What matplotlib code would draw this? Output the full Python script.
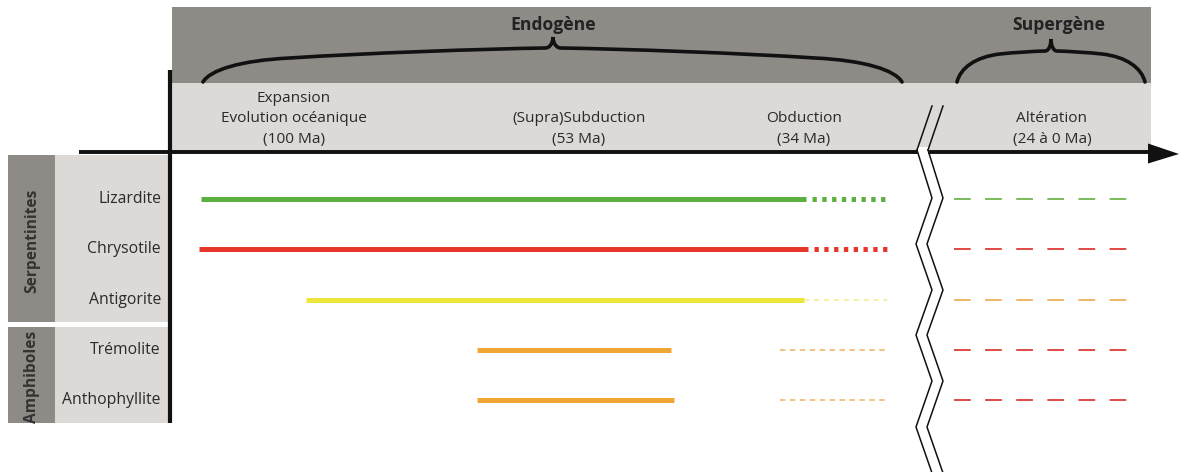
import matplotlib
matplotlib.use("Agg")
import matplotlib.pyplot as plt
from matplotlib.path import Path
from matplotlib.patches import PathPatch, Rectangle, Polygon

# ---------------- data (chart units ~ horizontal position on timeline) -------------
minerals = ["Lizardite", "Chrysotile", "Antigorite", "Trémolite", "Anthophyllite"]
groups = ["Serpentinites", "Amphiboles"]
group_sizes = [3, 2]
domains = ["Endogène", "Supergène"]
phases = ["Expansion\nEvolution océanique\n(100 Ma)", "(Supra)Subduction\n(53 Ma)",
          "Obduction\n(34 Ma)", "Altération\n(24 à 0 Ma)"]
phase_pos = [294, 579, 804, 1052]

solid_start = [201, 199, 306, 477, 477]
solid_end = [806, 808, 804, 671, 674]
tail_start = [812, 814, 804, 780, 780]
tail_end = [885, 887, 887, 888, 888]
tail_style = ["dots", "dots", "thin", "thin", "thin"]
super_start = [954, 954, 954, 954, 954]
super_end = [1131, 1131, 1131, 1131, 1131]

solid_colors = ["#5cb040", "#e8362c", "#ece63a", "#f0a636", "#f0a636"]
tail_colors = ["#5cb040", "#e8362c", "#eeee90", "#f0b060", "#f0b060"]
super_colors = ["#7cba5c", "#e04a44", "#f0b468", "#e04a44", "#e04a44"]

# ---------------- figure ----------------
W, H = 1179, 472
fig = plt.figure(figsize=(W / 100, H / 100), dpi=100)
ax = fig.add_axes([0, 0, 1, 1])
ax.set_xlim(0, W)
ax.set_ylim(H, 0)
ax.axis("off")
fig.patch.set_facecolor("white")

FONT = "Open Sans"
TXT = "#2a2a2a"
DARK = "#8e8a86"
LIGHT = "#dcd9d6"

# header bands
ax.add_patch(Rectangle((172, 7), 1151 - 172, 76, facecolor=DARK, edgecolor="none", zorder=1))
ax.add_patch(Rectangle((172, 83), 1151 - 172, 69, facecolor=LIGHT, edgecolor="none", zorder=1))

# left group panels
row_y0, row_step = 199, 50.3
rows_y = [row_y0 + i * row_step for i in range(len(minerals))]
panel_tops = [155, 327]
panel_bots = [322, 423]
for g, top, bot in zip(groups, panel_tops, panel_bots):
    ax.add_patch(Rectangle((8, top), 47, bot - top, facecolor=DARK, edgecolor="none", zorder=1))
    ax.add_patch(Rectangle((55, top), 114, bot - top, facecolor=LIGHT, edgecolor="none", zorder=1))
    ax.text(32, (top + bot) / 2 + 2, g, rotation=90, ha="center", va="center",
            fontsize=11.2, fontweight="bold", color="#333333", family=FONT, zorder=3)

for m, y in zip(minerals, rows_y):
    ax.text(161, y, m, ha="right", va="center", fontsize=11.3, color=TXT, family=FONT, zorder=3)

# axes lines
ax.plot([170, 170], [70, 423], color="#111111", lw=3, solid_capstyle="butt", zorder=4)
ax.plot([79, 1152], [152, 152], color="#111111", lw=2.8, solid_capstyle="butt", zorder=4)
ax.add_patch(Polygon([[1148, 143.5], [1179, 154], [1148, 163.5]], closed=True,
                     facecolor="#111111", edgecolor="none", zorder=4))

# phase labels
for p, x in zip(phases, phase_pos):
    ax.text(x, 146.5, p, ha="center", va="bottom", fontsize=11.1, color=TXT,
            family=FONT, linespacing=1.48, zorder=3)

# braces
def brace(x0, x1, xm, yb, ym, ytip, knee, yk, c):
    verts = []
    for side in (1, -1):
        xs = x0 if side == 1 else x1
        xk = xs + side * knee
        dk, dy = knee, yb - yk
        L = abs(xm - c * side - xk) if side == 1 else abs(xk - (xm + c))
        half = [(xs, yb),
                (xs + side * 0.08 * dk, yb - 0.5 * dy), (xs + side * 0.43 * dk, yk + 0.1 * dy), (xk, yk),
                (xk + side * 0.3 * L, yk - 0.5 * (yk - ym)), (xk + side * 0.75 * L, ym + 0.1 * (yk - ym)),
                (xm - side * c, ym),
                (xm - side * 0.4 * c, ym), (xm, ym - 0.45 * (ym - ytip)), (xm, ytip)]
        verts.append(half)
    left, right = verts
    path_verts = left + right[::-1][1:]
    codes = [Path.MOVETO] + [Path.CURVE4] * (len(path_verts) - 1)
    ax.add_patch(PathPatch(Path(path_verts, codes), facecolor="none", edgecolor="#111111",
                           lw=2.6, capstyle="round", zorder=3))

brace(203, 902, 553, 82, 48, 37, 87, 58, 8)
brace(957, 1145, 1051, 82, 51, 39, 43, 54, 6)
ax.text(553, 25, domains[0], ha="center", va="center", fontsize=12.6, fontweight="bold",
        color="#222222", family=FONT, zorder=3)
ax.text(1059, 25, domains[1], ha="center", va="center", fontsize=12.6, fontweight="bold",
        color="#222222", family=FONT, zorder=3)

# series
for i, y in enumerate(rows_y):
    ax.plot([solid_start[i], solid_end[i]], [y, y], color=solid_colors[i], lw=3.6,
            solid_capstyle="butt", zorder=5)
    if tail_style[i] == "dots":
        ax.plot([tail_start[i], tail_end[i]], [y, y], color=tail_colors[i], lw=3.6,
                dashes=(0.86, 1.1), dash_capstyle="butt", zorder=5)
    else:
        ax.plot([tail_start[i], tail_end[i]], [y, y], color=tail_colors[i], lw=1.1,
                dashes=(3.5, 3), dash_capstyle="butt", zorder=5)
    ax.plot([super_start[i], super_end[i]], [y, y], color=super_colors[i], lw=1.4,
            dashes=(8.6, 7.4), dash_capstyle="butt", zorder=5)

# axis break
ax.add_patch(Rectangle((918, 147), 10, 10, facecolor="white", edgecolor="none", zorder=6))
zig_x = [917, 932, 916, 932, 916, 932, 916, 932]
zig_y = [150, 198, 244, 290, 335, 381, 427, 473]
for off in (0, 11):
    ax.plot([x + off for x in zig_x], zig_y, color="#111111", lw=1.1, zorder=7)
    ax.plot([917 + off, 932 + off], [150, 106], color="#111111", lw=1.1, zorder=7)

fig.savefig("out.png", dpi=100, facecolor="white")
